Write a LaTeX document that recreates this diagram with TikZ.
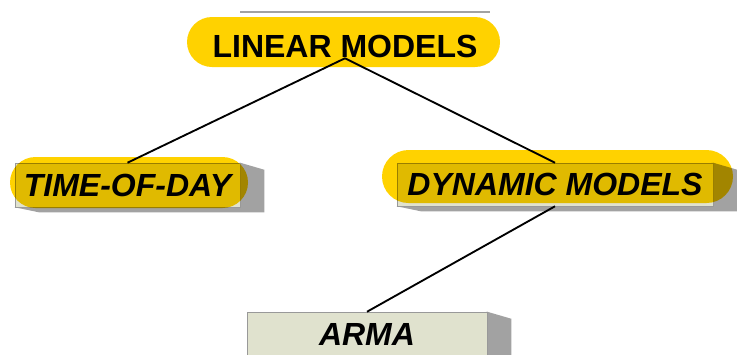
\documentclass[tikz,border=0pt]{standalone}
\usepackage{fontspec}
\setmainfont{Liberation Sans}
\usetikzlibrary{shapes.misc,backgrounds}
\definecolor{hiyellow}{HTML}{FFD200}
\definecolor{facegreen}{HTML}{E0E2CE}
\definecolor{sidegray}{HTML}{A2A2A2}
\begin{document}
\begin{tikzpicture}[x=0.75pt, y=-0.75pt, line width=1.4pt,
  box node/.style={rectangle, draw=gray!80, line width=0.4pt, fill=facegreen, inner sep=0pt, minimum height=33pt, font=\fontsize{24}{27}\selectfont\bfseries\itshape},
  pill node/.style={rounded rectangle, fill=hiyellow, inner sep=0pt, blend mode=multiply}]
\useasboundingbox (0,0) rectangle (737,354);

\node [inner sep=0pt, minimum width=217.5pt, minimum height=16.5pt, font=\fontsize{24}{27}\selectfont\bfseries](v1) at (345,46) {LINEAR MODELS};
\node [box node, minimum width=168.75pt](v2) at (127.5,185) {TIME-OF-DAY};
\node [box node, minimum width=237pt, minimum height=32.25pt](v3) at (555,184.5) {DYNAMIC MODELS};
\node [box node, minimum width=180pt](v4) at (367,334) {ARMA};

\begin{scope}[on background layer]
\draw [sidegray, line width=1.5pt] ([shift={(-105,-22)}]v1.north) -- ([shift={(145,-22)}]v1.north);
\foreach \v in {v2,v3,v4}
  \fill [sidegray] (\v.north east) -- ++(24,7) -- ([shift={(24,5)}]\v.south east) -- ([shift={(24,5)}]\v.south west) -- (\v.south west) -- cycle;
\end{scope}

\node [pill node, minimum width=234.75pt, minimum height=37.5pt] at (343.5,42) {};
\node [pill node, minimum width=178.5pt, minimum height=38.25pt] at (129,182.5) {};
\node [pill node, minimum width=263.25pt, minimum height=39.75pt] at (557.5,176.5) {};

\draw (v1.south) -- (v2.north);
\draw (v1.south) -- (v3.north);
\draw (v3.south) -- (v4.north);
\end{tikzpicture}
\end{document}
